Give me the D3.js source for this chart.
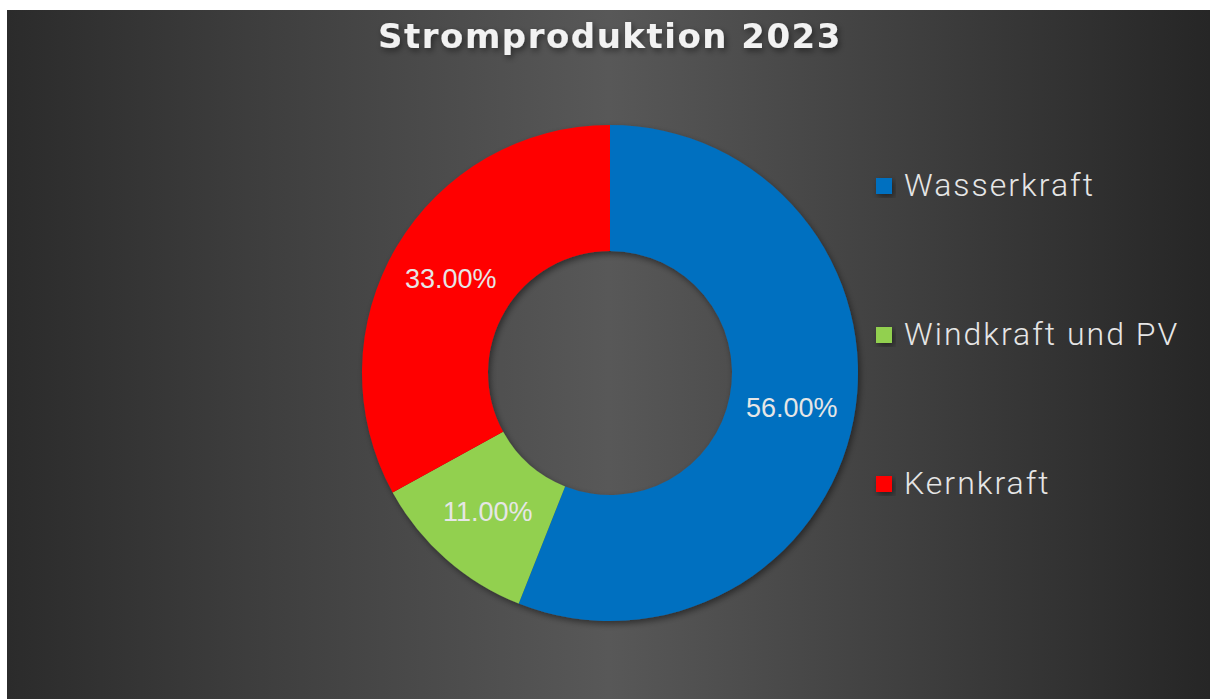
<!DOCTYPE html>
<html>
<head>
<meta charset="utf-8">
<script src="https://cdn.jsdelivr.net/npm/d3@7"></script>
<style>
  html, body { margin: 0; padding: 0; background: #ffffff; }
  svg { display: block; }
</style>
</head>
<body>
<div id="chart"></div>
<script>
// --- DATEN ---
const categories = ["Wasserkraft", "Windkraft und PV", "Kernkraft"];
const values = [56, 11, 33];
const colors = ["#0070C0", "#92D050", "#FF0000"];
const titleText = "Stromproduktion 2023";

const W = 1210, H = 699;

const svg = d3.select("#chart").append("svg")
    .attr("width", W)
    .attr("height", H);

const defs = svg.append("defs");

// Hintergrund-Verlauf (dunkel am Rand, heller in der Mitte)
const grad = defs.append("linearGradient")
    .attr("id", "bg")
    .attr("x1", "0%").attr("x2", "100%")
    .attr("y1", "0%").attr("y2", "0%");
grad.append("stop").attr("offset", "0%").attr("stop-color", "#2b2b2b");
grad.append("stop").attr("offset", "50%").attr("stop-color", "#585858");
grad.append("stop").attr("offset", "100%").attr("stop-color", "#262626");

// Schatten
const shadow = defs.append("filter")
    .attr("id", "shadow")
    .attr("x", "-20%").attr("y", "-20%")
    .attr("width", "140%").attr("height", "140%");
shadow.append("feDropShadow")
    .attr("dx", 2).attr("dy", 3)
    .attr("stdDeviation", 3)
    .attr("flood-color", "#000")
    .attr("flood-opacity", 0.45);

svg.append("rect")
    .attr("x", 7).attr("y", 10)
    .attr("width", W - 7).attr("height", H - 10)
    .attr("fill", "url(#bg)");

// --- TITEL ---
svg.append("text")
    .attr("x", 610)
    .attr("y", 48)
    .attr("text-anchor", "middle")
    .attr("font-family", "DejaVu Sans")
    .attr("font-weight", "bold")
    .attr("font-size", 34)
    .attr("letter-spacing", 1.5)
    .attr("fill", "#f2f2f2")
    .attr("filter", "url(#shadow)")
    .text(titleText);

// --- DONUT ---
const cx = 610, cy = 373;
const outerR = 248, innerR = 122;

const pie = d3.pie()
    .sort(null)
    .value(d => d.value);

const data = categories.map((c, i) => ({ name: c, value: values[i] }));
const arcs = pie(data);

const color = d3.scaleOrdinal()
    .domain(categories)
    .range(colors);

const arc = d3.arc()
    .innerRadius(innerR)
    .outerRadius(outerR);

const g = svg.append("g")
    .attr("transform", `translate(${cx},${cy})`);

g.append("g")
    .attr("filter", "url(#shadow)")
    .selectAll("path")
    .data(arcs)
    .enter()
    .append("path")
    .attr("d", arc)
    .attr("fill", d => color(d.data.name));

// Prozent-Labels
const total = d3.sum(values);
g.selectAll(".pct")
    .data(arcs)
    .enter()
    .append("text")
    .attr("class", "pct")
    .attr("transform", d => `translate(${arc.centroid(d)})`)
    .attr("text-anchor", "middle")
    .attr("dominant-baseline", "central")
    .attr("font-family", "Liberation Sans, Arial, sans-serif")
    .attr("font-size", 27)
    .attr("fill", "#e6e6e6")
    .text(d => (d.data.value / total * 100).toFixed(2) + "%");

// --- LEGENDE ---
const ly = d3.scalePoint()
    .domain(categories)
    .range([186, 484]);

const legend = svg.append("g");

const item = legend.selectAll(".item")
    .data(categories)
    .enter()
    .append("g")
    .attr("class", "item")
    .attr("transform", d => `translate(876,${ly(d)})`);

item.append("rect")
    .attr("x", 0)
    .attr("y", -8)
    .attr("width", 16)
    .attr("height", 16)
    .attr("fill", d => color(d))
    .attr("filter", "url(#shadow)");

item.append("text")
    .attr("x", 28)
    .attr("y", 10)
    .attr("font-family", "Roboto, sans-serif")
    .attr("font-weight", 300)
    .attr("font-size", 32)
    .attr("letter-spacing", 2)
    .attr("fill", "#e6e6e6")
    .text(d => d);
</script>
</body>
</html>
